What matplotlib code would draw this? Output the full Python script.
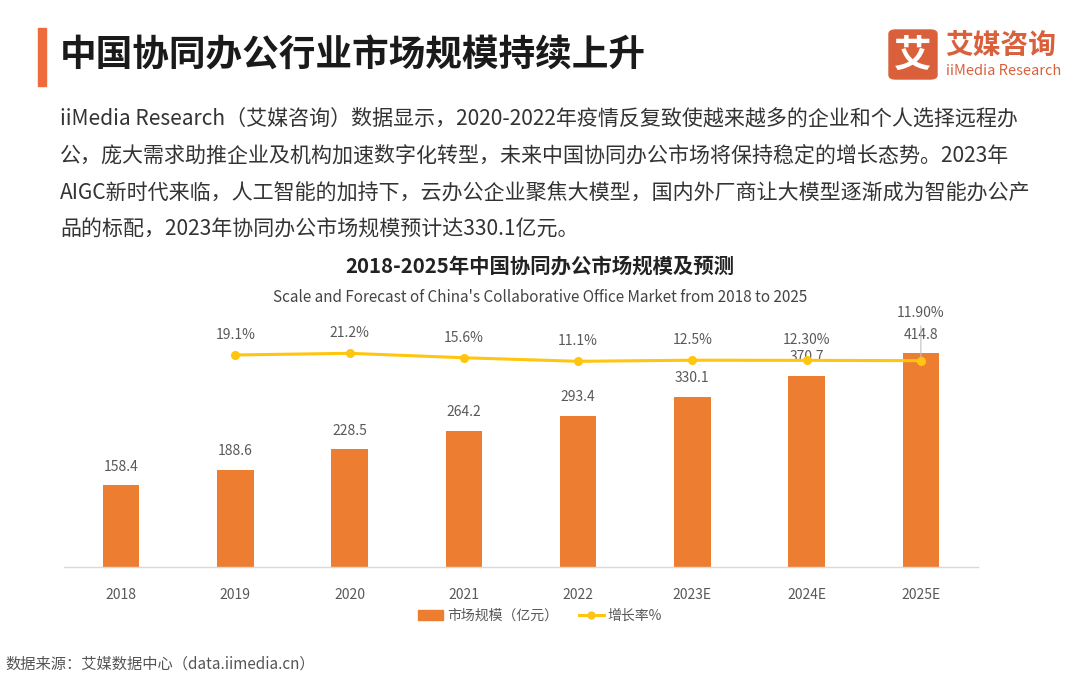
import matplotlib
matplotlib.use("Agg")
import matplotlib.pyplot as plt
from matplotlib.patches import FancyBboxPatch, Rectangle
from matplotlib.lines import Line2D

plt.rcParams['font.family'] = ['Noto Sans CJK SC', 'DejaVu Sans']

years = ["2018", "2019", "2020", "2021", "2022", "2023E", "2024E", "2025E"]
market = [158.4, 188.6, 228.5, 264.2, 293.4, 330.1, 370.7, 414.8]
growth_years = ["2019", "2020", "2021", "2022", "2023E", "2024E", "2025E"]
growth = [19.1, 21.2, 15.6, 11.1, 12.5, 12.3, 11.9]
growth_labels = ["19.1%", "21.2%", "15.6%", "11.1%", "12.5%", "12.30%", "11.90%"]

title = "中国协同办公行业市场规模持续上升"
paragraph = [
    "iiMedia Research（艾媒咨询）数据显示，2020-2022年疫情反复致使越来越多的企业和个人选择远程办",
    "公，庞大需求助推企业及机构加速数字化转型，未来中国协同办公市场将保持稳定的增长态势。2023年",
    "AIGC新时代来临，人工智能的加持下，云办公企业聚焦大模型，国内外厂商让大模型逐渐成为智能办公产",
    "品的标配，2023年协同办公市场规模预计达330.1亿元。",
]
chart_title = "2018-2025年中国协同办公市场规模及预测"
chart_sub = "Scale and Forecast of China's Collaborative Office Market from 2018 to 2025"
source = "数据来源：艾媒数据中心（data.iimedia.cn）"

W, H = 1080, 678
fig = plt.figure(figsize=(W / 100, H / 100), dpi=100)
fig.patch.set_facecolor("white")

def fx(px):
    return px / W

def fy(py):
    return 1 - py / H

# header
fig.patches.append(Rectangle((fx(38), fy(86)), fx(8), (86 - 28) / H, transform=fig.transFigure,
                             color="#EE6B3B", zorder=2))
fig.text(fx(60), fy(56), title, fontsize=26.4, fontweight="bold", color="#1a1a1a", va="center", ha="left")

# logo
fig.patches.append(FancyBboxPatch((fx(889), fy(79)), fx(48), (79 - 30) / H,
                                  boxstyle="round,pad=0,rounding_size=0.006",
                                  transform=fig.transFigure, color="#D9603B", zorder=2))
fig.text(fx(913), fy(55), "艾", fontsize=27, fontweight="bold", color="white", ha="center", va="center", zorder=3)
fig.text(fx(945), fy(46), "艾媒咨询", fontsize=20, fontweight="bold", color="#D9603B", ha="left", va="center")
fig.text(fx(946), fy(71), "iiMedia Research", fontsize=10.5, color="#D9603B", ha="left", va="center")

# paragraph
for i, line in enumerate(paragraph):
    fig.text(fx(60), fy(119 + i * 36.7), line, fontsize=15.1, color="#333333", ha="left", va="center")

fig.text(0.5, fy(266), chart_title, fontsize=14.7, fontweight="bold", color="#222222", ha="center", va="center")
fig.text(0.5, fy(297), chart_sub, fontsize=11, color="#444444", ha="center", va="center")

# chart axes
left, right = 64, 978
top, bottom = 309.5, 567
ax = fig.add_axes([fx(left), fy(bottom), (right - left) / W, (bottom - top) / H])
x = list(range(len(years)))
bar_color = "#ED7D31"
ax.bar(x, market, width=0.32, color=bar_color, zorder=2)
ax.set_xlim(-0.5, len(years) - 0.5)
ax.set_ylim(0, 500)
ax.set_yticks([])
for s in ["top", "right", "left"]:
    ax.spines[s].set_visible(False)
ax.spines["bottom"].set_color("#D9D9D9")
ax.spines["bottom"].set_linewidth(1)
ax.set_xticks(x)
ax.set_xticklabels(years, fontsize=10, color="#595959")
ax.tick_params(axis="x", length=0, pad=15)
for xi, v in zip(x, market):
    ax.annotate(f"{v}", (xi, v), xytext=(0, 8.5), textcoords="offset points",
                ha="center", va="bottom", fontsize=10, color="#595959")

ax2 = ax.twinx()
ax2.set_ylim(-249, 76.6)
ax2.set_yticks([])
for s in ["top", "right", "left", "bottom"]:
    ax2.spines[s].set_visible(False)
gx = [years.index(y) for y in growth_years]
line_color = "#FFC50F"
ax2.plot(gx, growth, color=line_color, lw=2.2, marker="o", ms=5.5, zorder=3)
for xi, v, lab in zip(gx, growth, growth_labels):
    if lab == "11.90%":
        ax2.annotate(lab, (xi, v), xytext=(0, 29), textcoords="offset points",
                     ha="center", va="bottom", fontsize=10, color="#595959")
        ax2.annotate("", (xi, v), xytext=(0, 27), textcoords="offset points",
                     arrowprops=dict(arrowstyle="-", color="#BFBFBF", lw=0.8))
    else:
        ax2.annotate(lab, (xi, v), xytext=(0, 9.5), textcoords="offset points",
                     ha="center", va="bottom", fontsize=10, color="#595959")

# legend
handles = [Rectangle((0, 0), 1, 1, color=bar_color),
           Line2D([0], [0], color=line_color, lw=2.2, marker="o", ms=5)]
fig.legend(handles, ["市场规模（亿元）", "增长率%"], loc="center", bbox_to_anchor=(0.5, fy(616)),
           ncol=2, frameon=False, fontsize=10, handlelength=1.8, columnspacing=1.5,
           handletextpad=0.3, labelcolor="#595959")

fig.text(fx(5), fy(664), source, fontsize=11, color="#555555", ha="left", va="center")

fig.savefig("out.png", dpi=100, facecolor="white")
